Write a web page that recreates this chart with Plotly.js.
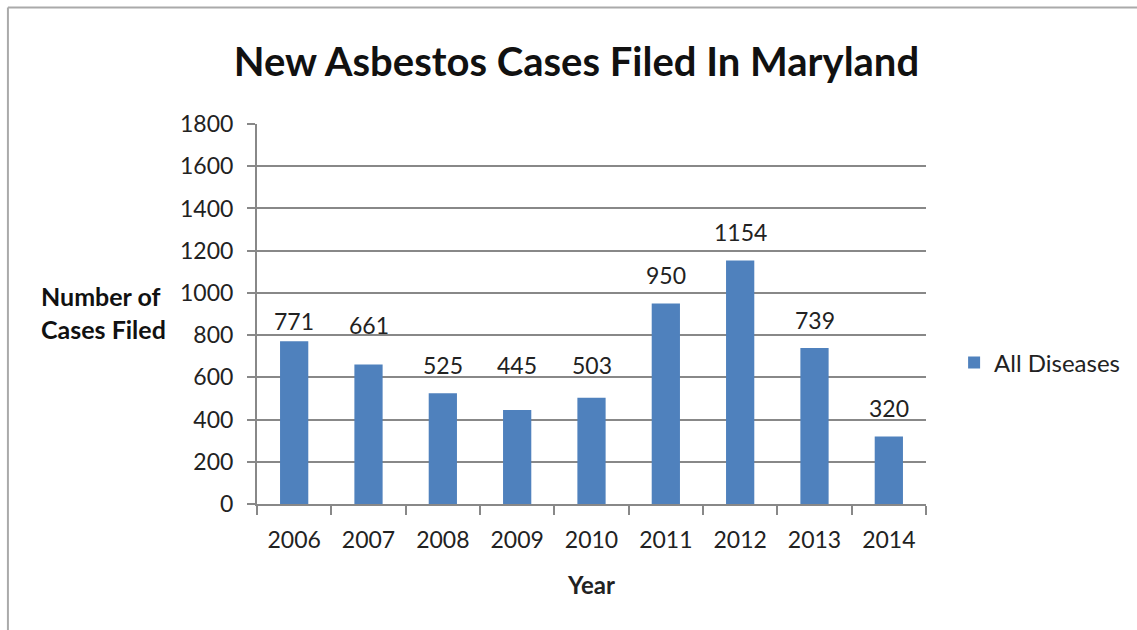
<!DOCTYPE html>
<html>
<head>
<meta charset="utf-8">
<script src="https://cdn.plot.ly/plotly-3.0.1.min.js"></script>
<style>html,body{margin:0;padding:0;background:#fff;} #chart{width:1137px;height:630px;}</style>
</head>
<body>
<div id="chart"></div>
<script>
const years = ['2006','2007','2008','2009','2010','2011','2012','2013','2014'];
const cases = [771, 661, 525, 445, 503, 950, 1154, 739, 320];
const seriesName = 'All Diseases';
const yTicks = [0,200,400,600,800,1000,1200,1400,1600,1800];

const FONT = 'Lato, "Open Sans", sans-serif';

// label placement (pixel offsets above bar tops, as manually arranged in the original)
const LABEL_GAP = 28;
const labelGapOverride = {'2006': 20, '2007': 39, '2009': 45, '2010': 33};

const trace = {
  type: 'bar',
  x: years,
  y: cases,
  name: seriesName,
  marker: {color: '#4f81bd'},
  showlegend: true
};

const labelAnnotations = years.map((yr, i) => ({
  xref: 'x', yref: 'y', x: i, y: cases[i],
  text: String(cases[i]), showarrow: false,
  xanchor: 'center', yanchor: 'middle',
  yshift: (labelGapOverride[yr] !== undefined ? labelGapOverride[yr] : LABEL_GAP),
  font: {family: FONT, size: 23, color: '#222'}
}));

const layout = {
  width: 1137, height: 630,
  margin: {l: 257, r: 208, t: 124, b: 126, pad: 0},
  paper_bgcolor: '#fff', plot_bgcolor: '#fff',
  font: {family: FONT, color: '#222'},
  bargap: 0.62,
  title: {text: '<b>New Asbestos Cases Filed In Maryland</b>', font: {family: FONT, size: 40, color: '#111'}, x: 0.507, xanchor: 'center', y: 0.902, yanchor: 'middle'},
  xaxis: {
    type: 'category',
    range: [-0.5, years.length - 0.5],
    showline: true, linecolor: '#888', linewidth: 2,
    ticks: 'outside', tickson: 'boundaries', ticklen: 9, tickwidth: 2, tickcolor: '#888',
    tickfont: {family: FONT, size: 23, color: '#222'},
    tickangle: 0,
    ticklabelstandoff: 14,
    title: {text: '<b>Year</b>', font: {family: FONT, size: 24, color: '#222'}, standoff: 26},
    showgrid: false
  },
  yaxis: {
    range: [0, 1800],
    tickvals: yTicks,
    showline: true, linecolor: '#888', linewidth: 2,
    ticks: 'outside', ticklen: 8, tickwidth: 2, tickcolor: '#888',
    tickfont: {family: FONT, size: 23, color: '#222'},
    showgrid: true, gridcolor: '#888', gridwidth: 2,
    zeroline: false,
    ticklabelstandoff: 9
  },
  legend: {x: 1.042, y: 0.371, xanchor: 'left', yanchor: 'middle', font: {family: FONT, size: 24, color: '#222'}, bgcolor: 'rgba(0,0,0,0)'},
  annotations: labelAnnotations.concat([{
    xref: 'paper', yref: 'paper', x: -0.133, y: 0.503, xanchor: 'right', yanchor: 'middle',
    text: '<b>Number of<br>Cases Filed</b>', showarrow: false, align: 'left',
    font: {family: FONT, size: 25, color: '#111'}
  }]),
  shapes: [
    {type: 'line', xref: 'paper', yref: 'paper', x0: -0.3723, x1: -0.3723, y0: -0.4, y1: 1.3065, line: {color: '#aaa', width: 2}},
    {type: 'line', xref: 'paper', yref: 'paper', x0: -0.3723, x1: 1.4, y0: 1.3065, y1: 1.3065, line: {color: '#aaa', width: 2}}
  ]
};

Plotly.newPlot('chart', [trace], layout, {staticPlot: true, displayModeBar: false});
</script>
</body>
</html>
